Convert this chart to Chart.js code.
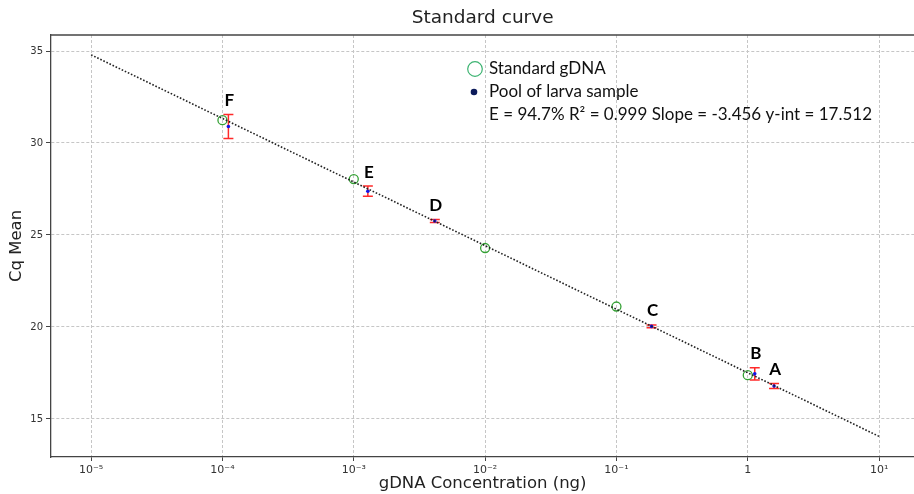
<!DOCTYPE html>
<html><head><meta charset="utf-8">
<script src="https://cdn.jsdelivr.net/npm/chart.js@4"></script>
<style>html,body{margin:0;padding:0;background:#fff;overflow:hidden;width:914px;height:494px;}</style>
</head><body>
<canvas id="c" width="920" height="494"></canvas>
<script>
const chartTitle = 'Standard curve';
const xTickValues = [1e-5, 1e-4, 1e-3, 1e-2, 1e-1, 1, 10];
const xTickLabels = ['10⁻⁵', '10⁻⁴', '10⁻³', '10⁻²', '10⁻¹', '1', '10¹'];
const yTickValues = [15, 20, 25, 30, 35];
const yTickLabels = ['15', '20', '25', '30', '35'];
const standardConc = [1e-4, 1e-3, 1e-2, 1e-1, 1];
const standardCq = [31.24, 28.04, 24.29, 21.11, 17.38];
const sampleNames = ['A', 'B', 'C', 'D', 'E', 'F'];
const sampleConc = [1.585, 1.13, 0.185, 0.00414, 0.00128, 0.000111];
const sampleCq = [16.79, 17.45, 20.03, 25.76, 27.38, 30.90];
const sampleErr = [0.13, 0.33, 0.08, 0.08, 0.28, 0.65];
const fitConc = [1e-5, 10];
const fitCq = [34.79, 14.05];
const legendLabels = ['Standard gDNA', 'Pool of larva sample', 'E = 94.7% R² = 0.999 Slope = -3.456 y-int = 17.512'];

const toPts = (xs, ys) => xs.map((x, i) => ({x: x, y: ys[i]}));

const errorBars = {
  id: 'errorBars',
  beforeDatasetDraw(chart, args) {
    if (args.index !== 2) return;
    const {ctx, scales: {x, y}} = chart;
    ctx.save();
    ctx.strokeStyle = '#ff2a2a';
    ctx.lineWidth = 1.5;
    sampleConc.forEach((c, i) => {
      const px = x.getPixelForValue(c);
      const yt = y.getPixelForValue(sampleCq[i] + sampleErr[i]);
      const yb = y.getPixelForValue(sampleCq[i] - sampleErr[i]);
      ctx.beginPath();
      ctx.moveTo(px, yt); ctx.lineTo(px, yb);
      ctx.moveTo(px - 5, yt); ctx.lineTo(px + 5, yt);
      ctx.moveTo(px - 5, yb); ctx.lineTo(px + 5, yb);
      ctx.stroke();
    });
    ctx.restore();
  },
  afterDatasetsDraw(chart) {
    const {ctx, scales: {x, y}} = chart;
    ctx.save();
    ctx.fillStyle = '#000';
    ctx.font = 'bold 17px Lato';
    ctx.textAlign = 'center';
    ctx.textBaseline = 'middle';
    sampleConc.forEach((c, i) => {
      const px = x.getPixelForValue(c);
      const yt = y.getPixelForValue(sampleCq[i] + sampleErr[i]);
      ctx.fillText(sampleNames[i], px + 1, yt - 14);
    });
    ctx.restore();
  }
};

const frameAndLegend = {
  id: 'frameAndLegend',
  afterDraw(chart) {
    const {ctx, chartArea: a} = chart;
    ctx.save();
    ctx.strokeStyle = '#444';
    ctx.lineWidth = 1.3;
    ctx.beginPath();
    ctx.moveTo(a.left, a.top); ctx.lineTo(a.right, a.top);
    ctx.stroke();
    // title centred over the plot area
    ctx.fillStyle = '#222';
    ctx.font = '18.5px "DejaVu Sans"';
    ctx.textAlign = 'center';
    ctx.textBaseline = 'middle';
    ctx.fillText(chartTitle, (a.left + a.right) / 2, 18);
    // legend
    const lx = 475, ly = 69, dy = 23;
    ctx.strokeStyle = '#3cb371';
    ctx.lineWidth = 1.2;
    ctx.beginPath(); ctx.arc(lx, ly, 7.3, 0, Math.PI * 2); ctx.stroke();
    ctx.fillStyle = '#0b1a5a';
    ctx.beginPath(); ctx.arc(lx - 1, ly + dy, 3.3, 0, Math.PI * 2); ctx.fill();
    ctx.fillStyle = '#111';
    ctx.font = '17px Lato';
    ctx.textAlign = 'left';
    ctx.textBaseline = 'middle';
    legendLabels.forEach((t, i) => ctx.fillText(t, 489, ly + dy * i));
    ctx.restore();
  }
};

new Chart(document.getElementById('c'), {
  type: 'scatter',
  data: {
    datasets: [
      {
        label: 'fit',
        data: toPts(fitConc, fitCq),
        showLine: true,
        pointRadius: 0,
        borderColor: '#222',
        borderWidth: 1.6,
        borderDash: [1.6, 1.8]
      },
      {
        label: 'Standard gDNA',
        data: toPts(standardConc, standardCq),
        pointRadius: 4.5,
        pointStyle: 'circle',
        borderColor: '#33a033',
        backgroundColor: 'rgba(0,0,0,0)',
        borderWidth: 1.3
      },
      {
        label: 'Pool of larva sample',
        data: toPts(sampleConc, sampleCq),
        pointRadius: 1.8,
        borderWidth: 0,
        backgroundColor: '#1414e6'
      }
    ]
  },
  options: {
    responsive: false,
    animation: false,
    devicePixelRatio: 1,
    layout: {padding: {top: 35, left: 0, right: 0, bottom: 0}},
    plugins: {
      legend: {display: false},
      tooltip: {enabled: false},
      title: {display: false}
    },
    scales: {
      x: {
        type: 'logarithmic',
        min: 4.95e-6,
        max: 18.5,
        afterBuildTicks: s => { s.ticks = xTickValues.map(v => ({value: v})); },
        afterFit: s => { s.height = 37; },
        ticks: {
          autoSkip: false, maxRotation: 0, minRotation: 0, padding: 3,
          color: '#333', font: {family: 'DejaVu Sans', size: 11},
          callback: (v, i) => xTickLabels[i]
        },
        grid: {color: '#c6c6c6', lineWidth: 1, tickLength: 4, tickColor: '#444', tickBorderDash: []},
        border: {color: '#444', width: 1.3, dash: [3, 2]},
        title: {display: true, text: 'gDNA Concentration (ng)', color: '#222',
          font: {family: 'DejaVu Sans', size: 16.5}, padding: {top: 0, bottom: 0}}
      },
      y: {
        type: 'linear',
        min: 12.93,
        max: 35.87,
        afterBuildTicks: s => { s.ticks = yTickValues.map(v => ({value: v})); },
        afterFit: s => { s.width = 51; },
        ticks: {
          padding: 3, color: '#333', font: {family: 'DejaVu Sans', size: 10},
          callback: (v, i) => yTickLabels[i]
        },
        grid: {color: '#c6c6c6', lineWidth: 1, tickLength: 5, tickColor: '#444', tickBorderDash: []},
        border: {color: '#444', width: 1.3, dash: [3, 2]},
        title: {display: true, text: 'Cq Mean', color: '#222',
          font: {family: 'DejaVu Sans', size: 16.5}, padding: {top: 7, bottom: 0}}
      }
    }
  },
  plugins: [errorBars, frameAndLegend]
});
</script>
</body></html>
